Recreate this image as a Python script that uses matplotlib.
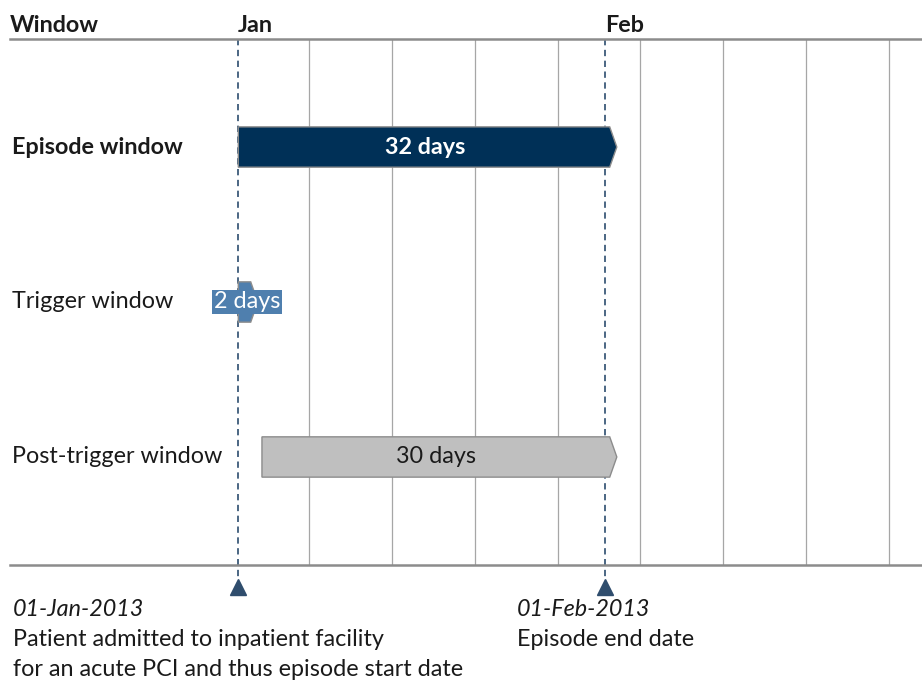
import datetime as dt
import matplotlib
matplotlib.use("Agg")
import matplotlib.pyplot as plt
import matplotlib.dates as mdates
from matplotlib.patches import Polygon
from matplotlib.transforms import blended_transform_factory

plt.rcParams['font.family'] = ['Lato', 'DejaVu Sans']

# ---- data ----
windows = ['Episode window', 'Trigger window', 'Post-trigger window']
starts = [dt.date(2013, 1, 1), dt.date(2013, 1, 1), dt.date(2013, 1, 3)]
ends = [dt.date(2013, 2, 2), dt.date(2013, 1, 3), dt.date(2013, 2, 2)]
bar_labels = ['32 days', '2 days', '30 days']
month_ticks = [dt.date(2013, 1, 1), dt.date(2013, 2, 1)]
month_labels = ['Jan', 'Feb']
week_lines = [dt.date(2013, 1, 7), dt.date(2013, 1, 14), dt.date(2013, 1, 21),
              dt.date(2013, 1, 28), dt.date(2013, 2, 4), dt.date(2013, 2, 11),
              dt.date(2013, 2, 18), dt.date(2013, 2, 25)]
events = [dt.date(2013, 1, 1), dt.date(2013, 2, 1)]
event_dates = ['01-Jan-2013', '01-Feb-2013']
event_lines = [['Patient admitted to inpatient facility',
                'for an acute PCI and thus episode start date'],
               ['Episode end date']]

fill_colors = ['#003057', '#4f7fae', '#bfbfbf']
text_colors = ['white', 'white', '#1a1a1a']
FS = 16.8
TXT = '#1a1a1a'

fig = plt.figure(figsize=(9.22, 6.86), dpi=100)
W, H = 922, 686
ax = fig.add_axes([10 / W, (H - 565) / H, 1 - 10 / W, (565 - 39) / H])

x0 = mdates.date2num(dt.date(2013, 1, 1))
ax.set_xlim(x0 - 19.3, x0 + 57.8)
ax.set_ylim(2.697, -0.697)
for s in ['left', 'right']:
    ax.spines[s].set_visible(False)
for s in ['top', 'bottom']:
    ax.spines[s].set_color('#8c8c8c')
    ax.spines[s].set_linewidth(1.8)
ax.set_xticks([])
ax.set_yticks([])

# weekly grid
for d in week_lines:
    ax.axvline(mdates.date2num(d), color='#a6a6a6', lw=0.9, zorder=1)

# bars as chevrons
bh = 0.26
tip = 0.6
for i, (s, e) in enumerate(zip(starts, ends)):
    xs, xe = mdates.date2num(s), mdates.date2num(e)
    if i == 1:
        xe = xe - 0.35
    pts = [(xs, i - bh / 2), (xe - tip, i - bh / 2), (xe, i),
           (xe - tip, i + bh / 2), (xs, i + bh / 2)]
    ax.add_patch(Polygon(pts, closed=True, facecolor=fill_colors[i],
                         edgecolor='#8c8c8c', lw=1, zorder=3))
    xm = (xs + xe) / 2
    if i == 0:
        ax.text(xm - 0.2, i, bar_labels[i], color=text_colors[i], fontsize=FS,
                fontweight='bold', ha='center', va='center', zorder=5)
    elif i == 1:
        ax.text(xm - 0.1, i, bar_labels[i], color=text_colors[i], fontsize=FS,
                ha='center', va='center', zorder=5,
                bbox=dict(boxstyle='square,pad=0.08', fc=fill_colors[i], ec='none'))
    else:
        ax.text(xm - 0.3, i, bar_labels[i], color=text_colors[i], fontsize=FS,
                ha='center', va='center', zorder=5)

# row labels
row_tr = blended_transform_factory(fig.transFigure, ax.transData)
for i, w in enumerate(windows):
    ax.text(12 / W, i, w, transform=row_tr, fontsize=FS,
            fontweight='bold' if i == 0 else 'normal',
            ha='left', va='center', color=TXT)

# header
hdr_tr = blended_transform_factory(ax.transData, fig.transFigure)
fig.text(10 / W, 1 - 25 / H, 'Window', fontsize=FS, fontweight='bold', va='center', color=TXT)
for d, lab in zip(month_ticks, month_labels):
    ax.text(mdates.date2num(d), 1 - 25 / H, lab, transform=hdr_tr, fontsize=FS,
            fontweight='bold', ha='left', va='center', color=TXT)

# event markers (dashed lines behind the bars)
for k, d in enumerate(events):
    xd = mdates.date2num(d)
    ax.plot([xd, xd], [-0.697, 2.697 + 0.08], ls=(0, (3.5, 2.5)), color='#3d5a7a',
            lw=1.3, zorder=2, clip_on=False)
    ax.plot([xd], [2.697 + 0.14], marker='^', ms=11, color='#2f4d6d', mec='#2f4d6d',
            clip_on=False, zorder=4)

ev_x = [13, 517]
for k in range(len(events)):
    fig.text(ev_x[k] / W, 1 - 609 / H, event_dates[k], fontsize=FS, style='italic',
             va='center', color=TXT)
    for j, line in enumerate(event_lines[k]):
        fig.text(ev_x[k] / W, 1 - (639 + 31 * j) / H, line, fontsize=FS,
                 va='center', color=TXT)

fig.savefig('out.png', dpi=100)
